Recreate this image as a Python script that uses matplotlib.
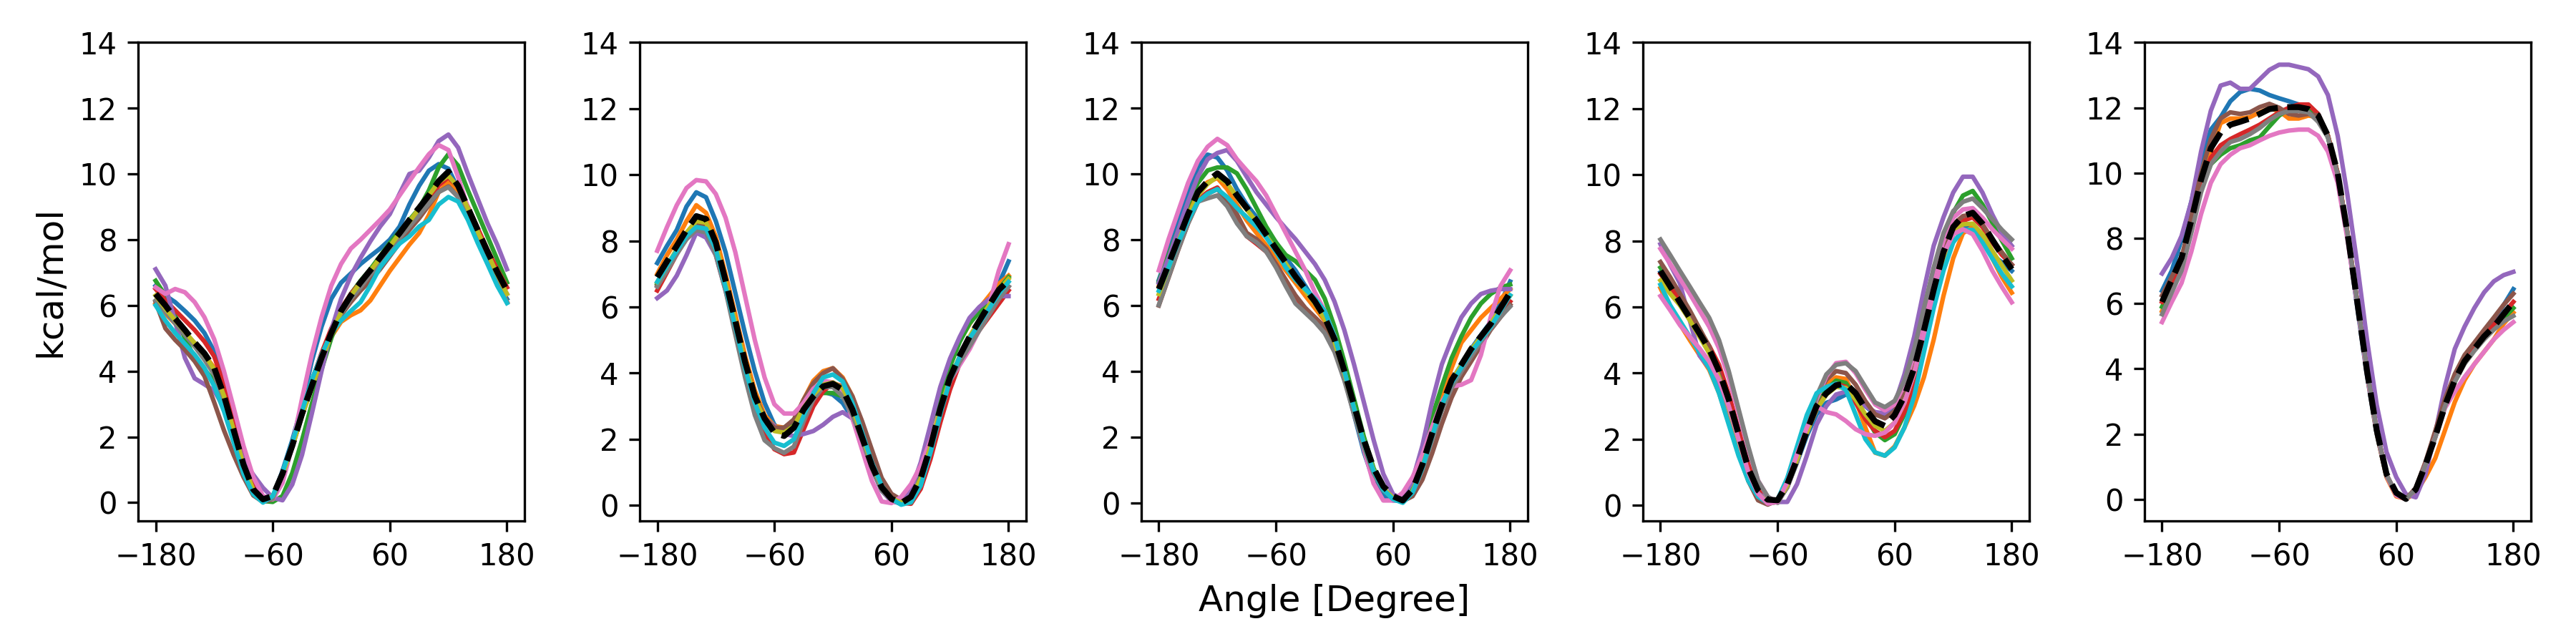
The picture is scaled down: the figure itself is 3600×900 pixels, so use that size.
import matplotlib
matplotlib.use("Agg")
import matplotlib.pyplot as plt

# torsion scan angles (degrees)
ANGLES = list(range(-180, 181, 10))
XTICKS = [-180, -60, 60, 180]

# ---- panel 1 ----
p1_blue = [6.6, 6.3, 6.1, 5.83, 5.54, 5.16, 4.6, 3.64, 2.5, 1.35, 0.5, 0.07, 0.15, 0.97, 1.9, 2.97, 4.3, 5.35, 6.2, 6.69, 6.97, 7.26, 7.5, 7.73, 8.0, 8.4, 9.07, 9.64, 10.1, 10.3, 10.16, 9.54, 8.8, 8.0, 7.35, 6.69, 6.2]
p1_orange = [6.05, 5.75, 5.45, 5.15, 4.85, 4.5, 4.1, 3.3, 2.3, 1.25, 0.45, 0.08, 0.12, 0.85, 1.7, 2.65, 3.5, 4.35, 5.05, 5.5, 5.7, 5.85, 6.15, 6.6, 7.05, 7.45, 7.85, 8.2, 8.75, 9.45, 9.75, 9.5, 8.85, 8.1, 7.4, 6.75, 6.1]
p1_green = [6.75, 6.3, 5.7, 5.0, 4.4, 4.05, 3.7, 3.1, 2.1, 1.1, 0.35, 0.05, 0.02, 0.2, 0.9, 1.9, 3.0, 4.05, 5.0, 5.8, 6.35, 6.75, 7.1, 7.5, 7.9, 8.25, 8.6, 8.95, 9.5, 10.2, 10.6, 10.25, 9.5, 8.8, 8.1, 7.4, 6.7]
p1_red = [6.5, 6.15, 5.85, 5.55, 5.25, 4.9, 4.45, 3.6, 2.5, 1.35, 0.5, 0.08, 0.12, 0.9, 1.8, 2.8, 3.7, 4.55, 5.3, 5.9, 6.35, 6.7, 7.05, 7.4, 7.75, 8.1, 8.45, 8.8, 9.2, 9.65, 9.9, 9.6, 9.0, 8.35, 7.7, 7.1, 6.55]
p1_purple = [7.1, 6.6, 5.5, 4.4, 3.78, 3.6, 3.4, 2.9, 2.1, 1.3, 0.85, 0.45, 0.15, 0.07, 0.55, 1.45, 2.7, 4.0, 5.25, 6.2, 6.9, 7.45, 7.95, 8.4, 8.78, 9.4, 10.0, 10.1, 10.5, 11.0, 11.2, 10.8, 10.0, 9.25, 8.5, 7.85, 7.1]
p1_brown = [6.1, 5.3, 4.95, 4.65, 4.3, 3.85, 3.05, 2.2, 1.45, 0.78, 0.22, 0.02, 0.1, 0.85, 1.75, 2.7, 3.6, 4.4, 5.1, 5.7, 6.1, 6.45, 6.75, 7.1, 7.5, 7.9, 8.3, 8.65, 9.05, 9.45, 9.62, 9.3, 8.65, 8.0, 7.3, 6.7, 6.1]
p1_pink = [6.55, 6.35, 6.5, 6.4, 6.1, 5.64, 4.97, 4.0, 2.88, 1.73, 0.78, 0.2, 0.1, 0.6, 1.73, 3.16, 4.5, 5.64, 6.6, 7.26, 7.73, 8.0, 8.3, 8.6, 8.92, 9.35, 9.78, 10.2, 10.6, 10.88, 10.73, 9.9, 8.97, 8.2, 7.45, 6.78, 6.35]
p1_gray = [6.15, 5.8, 5.45, 5.1, 4.75, 4.35, 3.9, 3.1, 2.1, 1.1, 0.38, 0.06, 0.12, 0.85, 1.7, 2.65, 3.5, 4.35, 5.1, 5.75, 6.2, 6.55, 6.95, 7.3, 7.7, 8.05, 8.4, 8.75, 9.1, 9.45, 9.6, 9.3, 8.65, 8.0, 7.35, 6.7, 6.1]
p1_olive = [6.3, 5.9, 5.55, 5.2, 4.85, 4.5, 4.05, 3.25, 2.2, 1.15, 0.4, 0.1, 0.2, 0.85, 1.7, 2.65, 3.5, 4.35, 5.1, 5.8, 6.3, 6.7, 7.05, 7.45, 7.8, 8.2, 8.55, 8.95, 9.35, 9.75, 9.95, 9.6, 8.95, 8.25, 7.6, 6.95, 6.35]
p1_cyan = [6.0, 5.54, 5.16, 4.83, 4.5, 4.1, 3.54, 2.78, 1.83, 0.88, 0.26, 0.0, 0.2, 0.92, 1.83, 2.78, 3.73, 4.5, 5.16, 5.54, 5.83, 6.1, 6.6, 7.16, 7.54, 7.88, 8.1, 8.4, 8.6, 9.07, 9.3, 9.16, 8.6, 7.9, 7.26, 6.6, 6.07]
p1_ref = [6.35, 6.0, 5.6, 5.25, 4.87, 4.54, 4.1, 3.26, 2.2, 1.16, 0.4, 0.1, 0.2, 0.88, 1.73, 2.7, 3.55, 4.4, 5.16, 5.83, 6.3, 6.7, 7.07, 7.45, 7.83, 8.2, 8.6, 8.97, 9.35, 9.78, 10.07, 9.64, 8.97, 8.3, 7.64, 7.02, 6.45]

# ---- panel 2 ----
p2_blue = [7.33, 7.85, 8.33, 9.04, 9.47, 9.32, 8.6, 7.66, 6.43, 5.2, 4.06, 3.1, 2.44, 2.2, 2.4, 2.92, 3.4, 3.44, 3.35, 3.1, 2.63, 1.88, 1.12, 0.45, 0.15, 0.05, 0.2, 0.8, 1.75, 2.9, 3.85, 4.5, 5.05, 5.55, 6.1, 6.7, 7.38]
p2_orange = [7.0, 7.57, 8.04, 8.6, 9.08, 8.85, 8.13, 7.0, 5.77, 4.53, 3.48, 2.73, 2.4, 2.35, 2.54, 3.2, 3.77, 4.06, 4.15, 3.87, 3.3, 2.44, 1.5, 0.74, 0.26, 0.07, 0.17, 1.0, 2.15, 3.2, 4.25, 5.0, 5.48, 5.96, 6.33, 6.7, 6.95]
p2_green = [6.7, 7.2, 7.7, 8.2, 8.6, 8.5, 7.85, 6.7, 5.5, 4.3, 3.3, 2.65, 2.3, 2.35, 2.55, 3.0, 3.35, 3.4, 3.4, 3.3, 2.8, 2.0, 1.15, 0.5, 0.15, 0.05, 0.2, 0.9, 2.0, 3.2, 4.2, 4.95, 5.5, 5.85, 6.2, 6.55, 6.9]
p2_red = [6.5, 7.05, 7.6, 8.1, 8.47, 8.4, 7.75, 6.6, 5.35, 4.1, 3.0, 2.2, 1.7, 1.55, 1.6, 2.3, 3.0, 3.45, 3.7, 3.6, 3.1, 2.3, 1.45, 0.7, 0.25, 0.08, 0.05, 0.5, 1.4, 2.5, 3.5, 4.3, 4.9, 5.3, 5.7, 6.1, 6.5]
p2_purple = [6.27, 6.5, 6.95, 7.57, 8.25, 8.1, 7.57, 6.5, 5.38, 4.15, 3.2, 2.63, 2.4, 2.16, 2.1, 2.16, 2.25, 2.44, 2.68, 2.82, 2.63, 1.97, 1.12, 0.45, 0.12, 0.07, 0.45, 1.3, 2.44, 3.58, 4.44, 5.1, 5.67, 6.0, 6.24, 6.33, 6.33]
p2_brown = [6.65, 7.15, 7.65, 8.15, 8.5, 8.45, 7.8, 6.7, 5.5, 4.3, 3.3, 2.65, 2.35, 2.35, 2.6, 3.2, 3.7, 4.0, 4.15, 3.83, 3.3, 2.54, 1.68, 0.83, 0.35, 0.17, 0.07, 0.64, 1.6, 2.73, 3.77, 4.44, 5.0, 5.48, 5.86, 6.24, 6.62]
p2_pink = [7.7, 8.42, 9.08, 9.6, 9.84, 9.8, 9.42, 8.7, 7.66, 6.33, 5.0, 3.87, 3.06, 2.78, 2.78, 3.1, 3.53, 3.77, 3.72, 3.44, 2.63, 1.68, 0.74, 0.12, 0.07, 0.26, 0.64, 1.2, 1.97, 2.92, 3.77, 4.25, 4.72, 5.3, 6.05, 7.1, 7.9]
p2_gray = [6.62, 7.1, 7.6, 8.05, 8.33, 8.25, 7.57, 6.5, 5.17, 3.87, 2.73, 1.97, 1.73, 1.59, 1.78, 2.54, 3.2, 3.58, 3.58, 3.3, 2.73, 1.97, 1.12, 0.45, 0.17, 0.07, 0.17, 0.83, 1.78, 2.82, 3.77, 4.34, 4.81, 5.29, 5.77, 6.24, 6.62]
p2_olive = [6.75, 7.25, 7.75, 8.25, 8.6, 8.55, 7.9, 6.75, 5.55, 4.3, 3.25, 2.6, 2.25, 2.2, 2.4, 2.95, 3.35, 3.65, 3.72, 3.55, 2.95, 2.1, 1.25, 0.58, 0.22, 0.08, 0.22, 0.8, 1.78, 2.9, 3.85, 4.5, 5.1, 5.6, 6.05, 6.5, 6.85]
p2_cyan = [6.76, 7.25, 7.7, 8.15, 8.42, 8.37, 7.75, 6.6, 5.4, 4.15, 3.1, 2.35, 1.9, 1.8, 2.0, 2.7, 3.4, 3.87, 3.96, 3.75, 3.1, 2.2, 1.3, 0.6, 0.2, 0.02, 0.1, 0.6, 1.6, 2.75, 3.8, 4.5, 5.05, 5.5, 5.95, 6.4, 6.76]
p2_ref = [6.9, 7.38, 7.85, 8.33, 8.75, 8.66, 7.95, 6.8, 5.58, 4.34, 3.3, 2.63, 2.2, 2.1, 2.35, 2.9, 3.3, 3.6, 3.68, 3.5, 2.9, 2.05, 1.2, 0.55, 0.2, 0.07, 0.26, 0.83, 1.78, 2.92, 3.87, 4.53, 5.1, 5.58, 6.05, 6.52, 6.8]

# ---- panel 3 ----
p3_blue = [6.78, 7.64, 8.5, 9.45, 10.2, 10.59, 10.5, 10.11, 9.54, 9.07, 8.69, 8.3, 7.92, 7.45, 7.07, 6.6, 6.12, 5.54, 4.78, 3.83, 2.69, 1.55, 0.69, 0.21, 0.07, 0.07, 0.35, 1.1, 2.05, 2.95, 3.72, 4.2, 4.68, 5.1, 5.5, 6.05, 6.73]
p3_orange = [6.6, 7.4, 8.15, 8.9, 9.5, 9.75, 9.88, 9.54, 9.07, 8.59, 8.21, 7.83, 7.45, 7.07, 6.69, 6.3, 5.92, 5.54, 4.88, 3.9, 2.85, 1.8, 0.95, 0.4, 0.12, 0.05, 0.35, 1.15, 2.2, 3.2, 4.1, 4.87, 5.25, 5.63, 5.92, 6.2, 6.5]
p3_green = [6.73, 7.54, 8.3, 9.07, 9.73, 10.11, 10.2, 10.2, 10.02, 9.54, 8.97, 8.4, 7.92, 7.54, 7.35, 7.07, 6.78, 6.21, 5.35, 4.3, 3.16, 2.02, 1.06, 0.4, 0.11, 0.07, 0.6, 1.55, 2.6, 3.54, 4.4, 5.06, 5.63, 6.06, 6.35, 6.54, 6.64]
p3_red = [6.2, 6.97, 7.83, 8.59, 9.21, 9.45, 9.59, 9.16, 8.59, 8.11, 7.88, 7.64, 7.26, 6.78, 6.26, 5.83, 5.59, 5.35, 4.78, 3.85, 2.8, 1.78, 0.95, 0.42, 0.15, 0.05, 0.3, 1.0, 1.95, 2.85, 3.6, 4.1, 4.55, 4.95, 5.35, 5.75, 6.12]
p3_purple = [6.69, 7.45, 8.3, 9.16, 9.92, 10.45, 10.64, 10.73, 10.4, 9.92, 9.45, 9.07, 8.69, 8.35, 8.02, 7.64, 7.26, 6.78, 6.12, 5.26, 4.21, 3.07, 1.92, 0.88, 0.26, 0.11, 0.69, 1.73, 3.07, 4.21, 4.97, 5.64, 6.06, 6.35, 6.45, 6.5, 6.5]
p3_brown = [6.0, 6.85, 7.7, 8.5, 9.15, 9.4, 9.54, 9.2, 8.78, 8.21, 8.02, 7.73, 7.26, 6.78, 6.31, 5.93, 5.64, 5.35, 4.8, 3.9, 2.85, 1.8, 0.95, 0.4, 0.12, 0.05, 0.2, 0.7, 1.5, 2.4, 3.2, 3.83, 4.3, 4.78, 5.26, 5.64, 6.02]
p3_pink = [7.07, 8.02, 8.88, 9.73, 10.4, 10.83, 11.07, 10.88, 10.45, 10.11, 9.78, 9.35, 8.78, 8.21, 7.64, 7.07, 6.4, 5.83, 5.07, 4.02, 2.78, 1.64, 0.59, 0.07, 0.07, 0.31, 0.78, 1.45, 2.3, 3.07, 3.54, 3.59, 3.73, 4.49, 5.64, 6.59, 7.07]
p3_gray = [6.02, 6.88, 7.73, 8.5, 9.16, 9.26, 9.35, 9.02, 8.5, 8.11, 7.92, 7.64, 7.16, 6.59, 6.06, 5.78, 5.5, 5.16, 4.59, 3.73, 2.69, 1.7, 0.9, 0.38, 0.12, 0.05, 0.3, 1.0, 1.9, 2.8, 3.5, 4.0, 4.45, 4.9, 5.3, 5.65, 5.97]
p3_olive = [6.35, 7.15, 7.95, 8.7, 9.35, 9.7, 9.92, 9.72, 9.3, 8.92, 8.55, 8.12, 7.7, 7.28, 6.85, 6.45, 6.05, 5.6, 4.9, 3.95, 2.9, 1.85, 1.0, 0.45, 0.15, 0.05, 0.35, 1.1, 2.05, 2.95, 3.7, 4.2, 4.65, 5.05, 5.45, 5.9, 6.3]
p3_cyan = [6.45, 7.16, 7.92, 8.59, 9.16, 9.4, 9.54, 9.3, 8.97, 8.69, 8.4, 8.07, 7.64, 7.16, 6.78, 6.5, 6.21, 5.83, 5.07, 4.02, 2.88, 1.83, 0.97, 0.4, 0.11, 0.0, 0.31, 1.06, 2.02, 2.97, 3.64, 4.11, 4.59, 4.97, 5.35, 5.83, 6.31]
p3_ref = [6.5, 7.26, 8.02, 8.78, 9.45, 9.78, 10.02, 9.78, 9.35, 8.97, 8.59, 8.16, 7.73, 7.31, 6.88, 6.5, 6.12, 5.64, 4.97, 4.02, 2.97, 1.92, 1.06, 0.5, 0.2, 0.07, 0.4, 1.16, 2.11, 2.97, 3.73, 4.2, 4.68, 5.06, 5.44, 5.92, 6.4]

# ---- panel 4 ----
p4_blue = [7.05, 6.6, 6.15, 5.7, 5.2, 4.7, 4.05, 3.2, 2.15, 1.1, 0.4, 0.1, 0.12, 0.55, 1.3, 2.1, 2.75, 3.1, 3.2, 3.35, 3.3, 3.0, 2.75, 2.73, 2.95, 3.5, 4.3, 5.4, 6.6, 7.6, 8.25, 8.4, 8.42, 8.0, 7.57, 7.35, 7.09]
p4_orange = [6.57, 5.96, 5.48, 5.0, 4.55, 4.1, 3.4, 2.5, 1.55, 0.75, 0.25, 0.05, 0.15, 0.75, 1.6, 2.5, 3.2, 3.65, 3.87, 3.82, 3.2, 2.35, 1.59, 1.5, 1.78, 2.35, 3.01, 3.87, 5.01, 6.33, 7.47, 8.23, 8.42, 8.04, 7.47, 6.9, 6.43]
p4_green = [7.19, 6.75, 6.3, 5.8, 5.3, 4.8, 4.15, 3.25, 2.15, 1.05, 0.35, 0.05, 0.1, 0.6, 1.45, 2.3, 3.05, 3.5, 3.77, 3.7, 3.25, 2.7, 2.2, 1.97, 2.15, 2.75, 3.7, 4.95, 6.4, 7.75, 8.85, 9.37, 9.51, 9.1, 8.55, 8.0, 7.47]
p4_red = [7.0, 6.6, 6.2, 5.75, 5.3, 4.82, 4.25, 3.35, 2.3, 1.25, 0.5, 0.15, 0.1, 0.55, 1.35, 2.2, 2.9, 3.4, 3.68, 3.58, 3.1, 2.6, 2.25, 2.06, 2.25, 2.82, 3.68, 4.82, 6.14, 7.28, 8.23, 8.61, 8.71, 8.42, 7.95, 7.57, 7.28]
p4_purple = [7.9, 7.28, 6.71, 5.6, 4.53, 4.15, 3.68, 2.92, 1.88, 0.93, 0.36, 0.17, 0.1, 0.1, 0.64, 1.5, 2.44, 3.0, 3.35, 3.44, 3.3, 3.0, 2.82, 2.78, 3.06, 3.96, 5.1, 6.52, 7.85, 8.71, 9.46, 9.94, 9.94, 9.46, 8.8, 8.23, 7.85]
p4_brown = [7.36, 6.9, 6.4, 5.9, 5.35, 4.8, 4.0, 3.0, 1.9, 0.74, 0.15, 0.02, 0.15, 0.8, 1.65, 2.55, 3.3, 3.8, 4.06, 4.0, 3.65, 3.15, 2.75, 2.63, 2.85, 3.45, 4.35, 5.55, 6.8, 7.85, 8.5, 8.75, 8.8, 8.5, 8.05, 7.65, 7.28]
p4_pink = [7.76, 7.3, 6.85, 6.4, 5.9, 5.4, 4.75, 3.85, 2.8, 1.7, 0.75, 0.25, 0.1, 0.55, 1.35, 2.25, 3.2, 3.9, 4.3, 4.34, 4.0, 3.5, 3.05, 2.87, 3.05, 3.65, 4.55, 5.75, 7.0, 8.0, 8.7, 8.95, 8.99, 8.7, 8.35, 8.05, 7.76]
p4_gray = [8.04, 7.57, 7.09, 6.62, 6.14, 5.67, 5.0, 4.06, 2.92, 1.78, 0.74, 0.26, 0.07, 0.55, 1.3, 2.25, 3.3, 3.96, 4.25, 4.3, 4.06, 3.58, 3.11, 2.97, 3.16, 3.77, 4.72, 5.96, 7.19, 8.23, 8.9, 9.18, 9.28, 8.99, 8.66, 8.33, 8.04]
p4_olive = [6.8, 6.4, 6.05, 5.6, 5.1, 4.6, 3.87, 2.95, 1.95, 1.0, 0.35, 0.08, 0.12, 0.6, 1.4, 2.2, 2.9, 3.35, 3.58, 3.55, 3.2, 2.75, 2.4, 2.25, 2.5, 3.1, 4.0, 5.15, 6.35, 7.45, 8.2, 8.5, 8.52, 8.2, 7.7, 7.25, 6.8]
p4_cyan = [6.67, 6.05, 5.58, 5.1, 4.63, 4.15, 3.39, 2.44, 1.5, 0.74, 0.26, 0.07, 0.17, 0.83, 1.78, 2.73, 3.39, 3.58, 3.68, 3.49, 2.75, 2.0, 1.6, 1.5, 1.75, 2.35, 3.3, 4.63, 5.96, 7.09, 7.95, 8.33, 8.33, 7.95, 7.47, 7.0, 6.62]
p4_pink2 = [6.33, 5.9, 5.45, 5.1, 4.75, 4.35, 3.8, 3.0, 2.0, 1.0, 0.35, 0.05, 0.1, 0.7, 1.55, 2.35, 3.0, 2.82, 2.75, 2.55, 2.3, 2.15, 2.1, 2.2, 2.5, 3.1, 4.0, 5.2, 6.5, 7.6, 8.2, 8.35, 8.2, 7.7, 7.1, 6.6, 6.14]
p4_ref = [7.09, 6.62, 6.14, 5.67, 5.2, 4.72, 4.06, 3.2, 2.16, 1.12, 0.45, 0.17, 0.15, 0.64, 1.4, 2.25, 3.0, 3.39, 3.63, 3.68, 3.39, 2.92, 2.54, 2.4, 2.73, 3.3, 4.15, 5.29, 6.52, 7.66, 8.42, 8.75, 8.85, 8.52, 8.04, 7.57, 7.14]

# ---- panel 5 ----
p5_blue = [6.39, 7.01, 7.97, 9.12, 10.37, 11.33, 11.71, 12.2, 12.48, 12.58, 12.53, 12.39, 12.29, 12.2, 12.1, 12.05, 11.81, 11.1, 9.9, 8.05, 5.9, 3.8, 2.0, 0.7, 0.12, 0.0, 0.3, 1.1, 2.0, 2.95, 3.7, 4.25, 4.65, 5.05, 5.45, 5.95, 6.44]
p5_orange = [5.77, 6.44, 7.21, 8.36, 9.7, 10.66, 11.53, 11.67, 11.67, 11.71, 11.86, 11.98, 11.9, 11.67, 11.67, 11.76, 11.71, 11.14, 9.99, 8.17, 6.06, 3.85, 2.02, 0.68, 0.09, 0.01, 0.2, 0.68, 1.26, 2.12, 2.98, 3.65, 4.14, 4.52, 4.9, 5.38, 5.72]
p5_green = [5.9, 6.53, 7.2, 8.36, 9.5, 10.27, 10.56, 10.76, 10.85, 11.0, 11.09, 11.43, 11.76, 11.96, 12.0, 11.96, 11.71, 11.1, 9.95, 8.1, 6.0, 3.9, 2.05, 0.72, 0.15, 0.02, 0.3, 1.05, 1.9, 2.85, 3.6, 4.2, 4.6, 4.95, 5.25, 5.55, 5.86]
p5_red = [6.05, 6.63, 7.3, 8.45, 9.6, 10.47, 10.85, 11.04, 11.19, 11.33, 11.48, 11.67, 11.86, 12.0, 12.1, 12.1, 11.81, 11.14, 10.0, 8.15, 6.05, 3.95, 2.1, 0.75, 0.15, 0.01, 0.3, 1.05, 1.95, 2.9, 3.65, 4.25, 4.65, 5.0, 5.35, 5.7, 6.05]
p5_purple = [6.92, 7.4, 8.07, 9.12, 10.66, 11.91, 12.68, 12.77, 12.58, 12.58, 12.87, 13.16, 13.32, 13.32, 13.25, 13.18, 12.96, 12.39, 11.14, 9.32, 7.21, 4.9, 2.89, 1.45, 0.68, 0.15, 0.06, 0.78, 2.03, 3.46, 4.61, 5.29, 5.86, 6.34, 6.68, 6.87, 6.97]
p5_brown = [6.25, 6.82, 7.4, 8.65, 9.99, 11.04, 11.67, 11.86, 11.81, 11.86, 12.02, 12.12, 12.0, 11.81, 11.76, 11.81, 11.76, 11.14, 9.99, 8.15, 6.05, 3.95, 2.1, 0.75, 0.15, 0.01, 0.35, 1.15, 2.1, 3.08, 3.84, 4.42, 4.8, 5.19, 5.57, 5.96, 6.3]
p5_pink = [5.43, 6.05, 6.63, 7.59, 8.74, 9.7, 10.27, 10.56, 10.76, 10.85, 11.0, 11.14, 11.24, 11.3, 11.33, 11.33, 11.14, 10.66, 9.7, 7.97, 5.95, 3.85, 2.05, 0.72, 0.12, 0.0, 0.3, 1.05, 1.9, 2.8, 3.3, 3.75, 4.14, 4.52, 4.9, 5.19, 5.43]
p5_gray = [5.67, 6.34, 7.01, 8.17, 9.41, 10.27, 10.66, 10.95, 11.04, 11.19, 11.38, 11.62, 11.81, 11.9, 11.9, 11.86, 11.57, 11.09, 9.95, 8.15, 6.05, 3.95, 2.1, 0.75, 0.17, 0.01, 0.3, 1.05, 1.9, 2.85, 3.6, 4.15, 4.55, 4.9, 5.2, 5.45, 5.62]
p5_ref = [6.05, 6.73, 7.4, 8.55, 9.8, 10.76, 11.24, 11.48, 11.57, 11.67, 11.81, 11.96, 12.0, 12.02, 12.02, 11.96, 11.76, 11.14, 9.99, 8.17, 6.06, 3.94, 2.12, 0.78, 0.2, 0.01, 0.3, 1.06, 1.92, 2.88, 3.65, 4.23, 4.61, 4.99, 5.29, 5.67, 6.05]

panels = [
    [(p1_blue, 'C0'), (p1_orange, 'C1'), (p1_green, 'C2'), (p1_red, 'C3'), (p1_purple, 'C4'),
     (p1_brown, 'C5'), (p1_pink, 'C6'), (p1_gray, 'C7'), (p1_olive, 'C8'), (p1_cyan, 'C9')],
    [(p2_blue, 'C0'), (p2_orange, 'C1'), (p2_green, 'C2'), (p2_red, 'C3'), (p2_purple, 'C4'),
     (p2_brown, 'C5'), (p2_pink, 'C6'), (p2_gray, 'C7'), (p2_olive, 'C8'), (p2_cyan, 'C9')],
    [(p3_blue, 'C0'), (p3_orange, 'C1'), (p3_green, 'C2'), (p3_red, 'C3'), (p3_purple, 'C4'),
     (p3_brown, 'C5'), (p3_pink, 'C6'), (p3_gray, 'C7'), (p3_olive, 'C8'), (p3_cyan, 'C9')],
    [(p4_blue, 'C0'), (p4_orange, 'C1'), (p4_green, 'C2'), (p4_red, 'C3'), (p4_purple, 'C4'),
     (p4_brown, 'C5'), (p4_pink, 'C6'), (p4_gray, 'C7'), (p4_olive, 'C8'), (p4_cyan, 'C9'),
     (p4_pink2, 'C6')],
    [(p5_blue, 'C0'), (p5_orange, 'C1'), (p5_green, 'C2'), (p5_red, 'C3'), (p5_purple, 'C4'),
     (p5_brown, 'C5'), (p5_pink, 'C6'), (p5_gray, 'C7')],
]
refs = [p1_ref, p2_ref, p3_ref, p4_ref, p5_ref]

fig, axes = plt.subplots(1, 5, figsize=(12, 3))

for ax, curves, ref in zip(axes, panels, refs):
    for vals, col in curves:
        ax.plot(ANGLES, vals, color=col, lw=1.5)
    ax.plot(ANGLES, ref, 'k--', lw=2)
    ax.set_ylim(top=14)
    ax.set_xticks(XTICKS)

axes[0].set_ylabel('kcal/mol', fontsize=12)
axes[2].set_xlabel('Angle [Degree]', fontsize=12)

fig.subplots_adjust(left=0.0536, right=0.9825, bottom=0.191, top=0.934, wspace=0.298)
fig.savefig('out.png', dpi=300)
